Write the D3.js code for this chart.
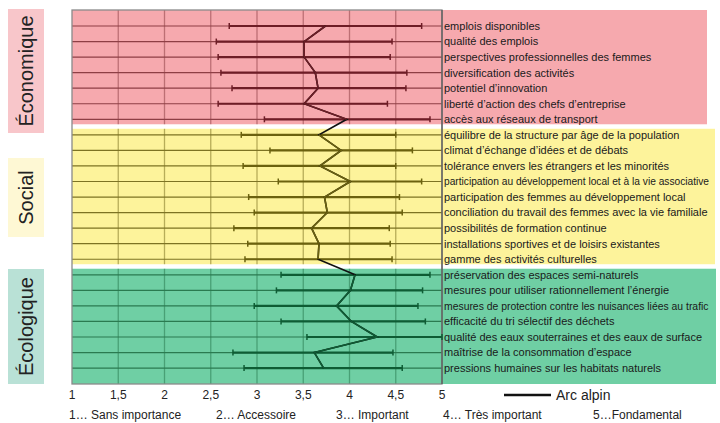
<!DOCTYPE html>
<html>
<head>
<meta charset="utf-8">
<script src="https://cdn.jsdelivr.net/npm/d3@7"></script>
<style>
  body { margin: 0; background: #fff; }
  text { font-family: "Liberation Sans", Arial, sans-serif; }
</style>
</head>
<body>
<svg></svg>
<script>
const svgWidth = 720;
const svgHeight = 423;

// categories per group
const ecoLabels = ["emplois disponibles", "qualité des emplois", "perspectives professionnelles des femmes",
  "diversification des activités", "potentiel d’innovation", "liberté d’action des chefs d’entreprise",
  "accès aux réseaux de transport"];
const socLabels = ["équilibre de la structure par âge de la population", "climat d’échange d’idées et de débats",
  "tolérance envers les étrangers et les minorités", "participation au développement local et à la vie associative",
  "participation des femmes au développement local", "conciliation du travail des femmes avec la vie familiale",
  "possibilités de formation continue", "installations sportives et de loisirs existantes",
  "gamme des activités culturelles"];
const envLabels = ["préservation des espaces semi-naturels", "mesures pour utiliser rationnellement l’énergie",
  "mesures de protection contre les nuisances liées au trafic", "efficacité du tri sélectif des déchets",
  "qualité des eaux souterraines et des eaux de surface", "maîtrise de la consommation d’espace",
  "pressions humaines sur les habitats naturels"];

// min / max / mean (Arc alpin)
const ecoMin = [2.70, 2.56, 2.58, 2.61, 2.73, 2.58, 3.08];
const ecoMax = [4.78, 4.46, 4.44, 4.62, 4.61, 4.41, 4.87];
const ecoMean = [3.74, 3.51, 3.51, 3.63, 3.66, 3.51, 3.97];

const socMin = [2.83, 3.14, 2.85, 3.23, 2.91, 2.97, 2.75, 2.90, 2.87];
const socMax = [4.50, 4.68, 4.50, 4.78, 4.54, 4.57, 4.43, 4.44, 4.46];
const socMean = [3.67, 3.91, 3.68, 4.01, 3.73, 3.76, 3.59, 3.67, 3.66];

const envMin = [3.26, 3.21, 2.97, 3.26, 3.54, 2.74, 2.86];
const envMax = [4.87, 4.79, 4.74, 4.82, 5.00, 4.47, 4.57];
const envMean = [4.06, 4.01, 3.86, 4.02, 4.30, 3.62, 3.72];

const groupNames = ["Économique", "Social", "Écologique"];
const xTicks = [1, 1.5, 2, 2.5, 3, 3.5, 4, 4.5, 5];
const scaleLabels = ["1… Sans importance", "2… Accessoire", "3… Important", "4… Très important", "5…Fondamental"];
const legendLabel = "Arc alpin";

const plotLeft = 72, plotRight = 442, plotTop = 10, plotBottom = 384;
const labelMaxWidth = 266;

const groups = [
  { name: groupNames[0], labels: ecoLabels, min: ecoMin, max: ecoMax, mean: ecoMean,
    bg: "#f6a9ae", box: "#f8c6ca", grid: "#8e3f45", dark: "#6e1d26", bgRight: 707, boxY: [9, 133] },
  { name: groupNames[1], labels: socLabels, min: socMin, max: socMax, mean: socMean,
    bg: "#fdf39b", box: "#fef8d4", grid: "#7d7323", dark: "#6b610e", bgRight: 715, boxY: [158, 237] },
  { name: groupNames[2], labels: envLabels, min: envMin, max: envMax, mean: envMean,
    bg: "#6fcfa4", box: "#b9e1d6", grid: "#2a7a50", dark: "#0e5c34", bgRight: 716, boxY: [269, 384] }
];

const allLabels = groups.flatMap(g => g.labels);

const x = d3.scaleLinear().domain([1, 5]).range([plotLeft, plotRight]);
const y = d3.scalePoint().domain(allLabels).range([26, 368.1]);
const step = y.step();

const svg = d3.select("svg")
  .attr("width", svgWidth)
  .attr("height", svgHeight);

// band extents
groups.forEach((g, i) => {
  const first = y(g.labels[0]);
  const last = y(g.labels[g.labels.length - 1]);
  g.top = i === 0 ? plotTop : first - step / 2 + 1.7;
  g.bottom = i === groups.length - 1 ? plotBottom : last + step / 2 - 2.8;
});

// backgrounds
svg.selectAll("rect.bg")
  .data(groups)
  .enter()
  .append("rect")
  .attr("class", "bg")
  .attr("x", plotLeft)
  .attr("y", d => d.top)
  .attr("width", d => d.bgRight - plotLeft)
  .attr("height", d => d.bottom - d.top)
  .attr("fill", d => d.bg);

// left group boxes
const boxes = svg.selectAll("g.box")
  .data(groups)
  .enter()
  .append("g")
  .attr("class", "box");
boxes.append("rect")
  .attr("x", 8)
  .attr("y", d => d.boxY[0])
  .attr("width", 36)
  .attr("height", d => d.boxY[1] - d.boxY[0])
  .attr("fill", d => d.box);
boxes.append("text")
  .attr("transform", d => "translate(33," + ((d.boxY[0] + d.boxY[1]) / 2) + ") rotate(-90)")
  .attr("text-anchor", "middle")
  .attr("font-size", 20)
  .attr("fill", "#222")
  .text(d => d.name);

// vertical grid lines, per band
groups.forEach(g => {
  svg.append("g")
    .selectAll("line")
    .data(xTicks.slice(1, -1))
    .enter()
    .append("line")
    .attr("x1", d => x(d)).attr("x2", d => x(d))
    .attr("y1", g.top).attr("y2", g.bottom)
    .attr("stroke", g.grid)
    .attr("stroke-opacity", 0.55)
    .attr("stroke-width", 1.3);
});

// horizontal row lines
groups.forEach(g => {
  svg.append("g")
    .selectAll("line")
    .data(g.labels)
    .enter()
    .append("line")
    .attr("x1", plotLeft).attr("x2", plotRight)
    .attr("y1", d => y(d)).attr("y2", d => y(d))
    .attr("stroke", g.grid)
    .attr("stroke-width", 1.2);
});

// frame
svg.append("rect")
  .attr("x", plotLeft).attr("y", plotTop)
  .attr("width", plotRight - plotLeft).attr("height", plotBottom - plotTop)
  .attr("fill", "none")
  .attr("stroke", "#8a8a8a")
  .attr("stroke-width", 1.3);
svg.append("line")
  .attr("x1", plotRight).attr("x2", plotRight)
  .attr("y1", plotTop).attr("y2", plotBottom)
  .attr("stroke", "#555")
  .attr("stroke-width", 1.2);

// min-max ranges
groups.forEach(g => {
  const rows = g.labels.map((l, i) => ({ label: l, min: g.min[i], max: g.max[i] }));
  const gr = svg.append("g");
  gr.selectAll("line.range")
    .data(rows)
    .enter()
    .append("line")
    .attr("x1", d => x(d.min)).attr("x2", d => x(d.max))
    .attr("y1", d => y(d.label)).attr("y2", d => y(d.label))
    .attr("stroke", g.dark)
    .attr("stroke-width", 2.2);
  ["min", "max"].forEach(k => {
    gr.selectAll("line.tick-" + k)
      .data(rows)
      .enter()
      .append("line")
      .attr("x1", d => x(d[k])).attr("x2", d => x(d[k]))
      .attr("y1", d => y(d.label) - 3).attr("y2", d => y(d.label) + 3)
      .attr("stroke", g.dark)
      .attr("stroke-width", 1.5);
  });
});

// mean line (Arc alpin)
const meanPts = groups.flatMap(g => g.labels.map((l, i) => [x(g.mean[i]), y(l)]));
const line = d3.line();
svg.append("path")
  .attr("d", line(meanPts))
  .attr("fill", "none")
  .attr("stroke", "#111")
  .attr("stroke-width", 1.6);
groups.forEach(g => {
  svg.append("path")
    .attr("d", line(g.labels.map((l, i) => [x(g.mean[i]), y(l)])))
    .attr("fill", "none")
    .attr("stroke", g.dark)
    .attr("stroke-width", 1.6);
});

// row labels (long ones set a little smaller to fit)
groups.forEach(g => {
  svg.append("g")
    .selectAll("text")
    .data(g.labels)
    .enter()
    .append("text")
    .attr("x", 444)
    .attr("y", d => y(d))
    .attr("dy", "0.35em")
    .attr("font-size", 11)
    .attr("fill", "#1a1a1a")
    .text(d => d)
    .each(function() {
      const w = this.getComputedTextLength();
      if (w > labelMaxWidth) {
        d3.select(this).attr("font-size", Math.floor(11 * labelMaxWidth / w * 10) / 10);
      }
    });
});

// x axis labels
svg.append("g")
  .selectAll("text")
  .data(xTicks)
  .enter()
  .append("text")
  .attr("x", d => x(d))
  .attr("y", 395)
  .attr("dy", "0.35em")
  .attr("text-anchor", "middle")
  .attr("font-size", 12)
  .attr("fill", "#222")
  .text(d => String(d).replace(".", ","));

// scale explanation
const scaleX = [69, 216, 336, 443, 593];
svg.append("g")
  .selectAll("text")
  .data(scaleLabels)
  .enter()
  .append("text")
  .attr("x", (d, i) => scaleX[i])
  .attr("y", 415)
  .attr("dy", "0.35em")
  .attr("font-size", 12)
  .attr("fill", "#222")
  .text(d => d);

// legend
svg.append("line")
  .attr("x1", 504).attr("x2", 551)
  .attr("y1", 395).attr("y2", 395)
  .attr("stroke", "#111")
  .attr("stroke-width", 2.5);
svg.append("text")
  .attr("x", 556).attr("y", 395)
  .attr("dy", "0.35em")
  .attr("font-size", 14)
  .attr("fill", "#222")
  .text(legendLabel);
</script>
</body>
</html>
